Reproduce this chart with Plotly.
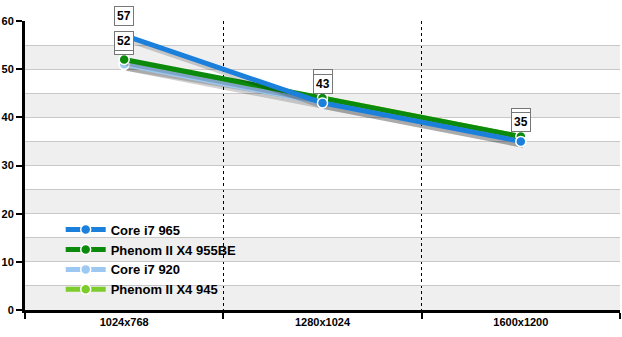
import plotly.graph_objects as go

categories = ["1024x768", "1280x1024", "1600x1200"]
series_names = ["Core i7 965", "Phenom II X4 955BE", "Core i7 920", "Phenom II X4 945"]
core_i7_965 = [57, 43, 35]
phenom_955be = [52, 44, 36]
core_i7_920 = [51, 43, 35]
phenom_945 = [51, 44, 36]
colors = ["#1b7fdc", "#0b8a0b", "#9cc8f2", "#7ccc2c"]
y_ticks = [0, 10, 20, 30, 40, 50, 60]

all_series = [core_i7_965, phenom_955be, core_i7_920, phenom_945]
xpos = [i + 0.5 for i in range(len(categories))]

fig = go.Figure()
font = "Liberation Sans, Arial, sans-serif"

# alternating bands
for lo in range(0, 60, 10):
    fig.add_shape(type="rect", xref="paper", x0=0, x1=1, yref="y", y0=lo, y1=lo + 5,
                  fillcolor="#efefef", line_width=0, layer="below")

# draw in reverse so first series is on top
for idx in reversed(range(4)):
    vals = all_series[idx]
    # shadow
    fig.add_trace(go.Scatter(x=[x + 0.012 for x in xpos], y=[v - 0.7 for v in vals], mode="lines",
                             line=dict(color="rgba(0,0,0,0.18)", width=6), showlegend=False,
                             hoverinfo="skip"))
    fig.add_trace(go.Scatter(x=xpos, y=vals, mode="lines+markers", name="<b>%s</b>" % series_names[idx],
                             line=dict(color=colors[idx], width=5),
                             marker=dict(size=10, color=colors[idx], line=dict(color="white", width=1.5))))

for idx in reversed(range(4)):
    vals = all_series[idx]
    for x, v in zip(xpos, vals):
        fig.add_annotation(x=x, y=v, text="<b>%d</b>" % v, showarrow=False, yshift=19,
                           font=dict(family=font, size=12, color="black"),
                           bgcolor="white", bordercolor="#777777", borderwidth=1, borderpad=2)

fig.update_layout(
    width=622, height=337,
    margin=dict(l=23, r=2, t=21, b=27),
    paper_bgcolor="white", plot_bgcolor="white",
    font=dict(family=font, size=11, color="black"),
    showlegend=True,
    legend=dict(x=0.06, y=0.33, xanchor="left", yanchor="top", traceorder="reversed",
                bgcolor="rgba(0,0,0,0)", font=dict(family=font, size=13, color="black"),
                itemwidth=40, tracegroupgap=0),
    xaxis=dict(range=[0, 3], tickvals=xpos, ticktext=["<b>%s</b>" % c for c in categories],
               ticks="", showgrid=False, zeroline=False,
               showline=True, linecolor="black", linewidth=3,
               tickfont=dict(size=11),
               minor=dict(tick0=0, dtick=1, ticks="outside", ticklen=6, tickwidth=2, tickcolor="black",
                          showgrid=True, gridcolor="black", griddash="dot", gridwidth=1)),
    yaxis=dict(range=[0, 60], tickvals=y_ticks, ticktext=["<b>%d</b>" % t for t in y_ticks],
               ticks="outside", ticklen=6, tickwidth=2, tickcolor="black",
               showgrid=True, gridcolor="#c8c8c8", gridwidth=1, zeroline=False,
               showline=True, linecolor="black", linewidth=3, tickfont=dict(size=11),
               minor=dict(dtick=5, showgrid=True, gridcolor="#c8c8c8", gridwidth=1)),
)

fig.write_html("out.html")
